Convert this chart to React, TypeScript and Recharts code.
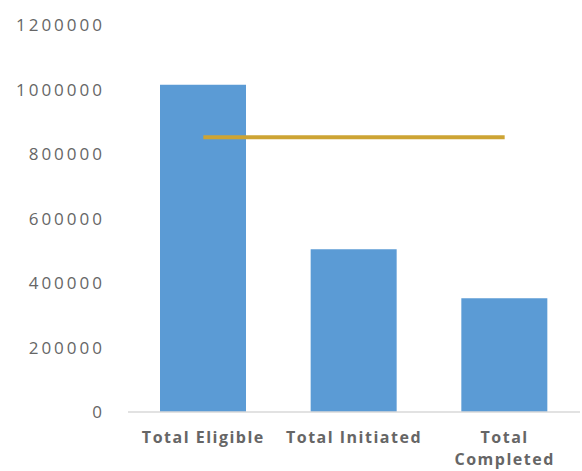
import { Bar, ComposedChart, Line, Text, XAxis, YAxis } from "recharts";

const categories = ["Total Eligible", "Total Initiated", "Total Completed"];
const totals = [1015000, 505000, 353000];
const target = [852000, 852000, 852000];
const yTicks = [0, 200000, 400000, 600000, 800000, 1000000, 1200000];

const chartData = categories.map((name, i) => ({
  name,
  total: totals[i],
  target: target[i],
}));

// labels wrap like Excel's narrow category slots
function CategoryTick({ x, y, payload }: any) {
  return (
    <Text
      x={x}
      y={y + 18}
      width={122}
      textAnchor="middle"
      verticalAnchor="start"
      lineHeight={22}
      fill="#666666"
      style={{
        fontFamily: "'Open Sans', sans-serif",
        fontSize: 16,
        fontWeight: 700,
        letterSpacing: 1.5,
      }}
    >
      {payload.value}
    </Text>
  );
}

export default function App() {
  return (
    <div style={{ position: "absolute", left: 0, top: 0, background: "#fff" }}>
      <ComposedChart
        width={582}
        height={471}
        data={chartData}
        margin={{ top: 25, right: 2, left: 0, bottom: 0 }}
      >
        <XAxis
          dataKey="name"
          height={59}
          interval={0}
          tickLine={false}
          tickSize={0}
          axisLine={{ stroke: "#d9d9d9", strokeWidth: 1.5 }}
          tick={<CategoryTick />}
        />
        <YAxis
          width={128}
          domain={[0, 1200000]}
          ticks={yTicks}
          axisLine={false}
          tickLine={false}
          tickSize={0}
          tickMargin={23}
          tick={{
            fill: "#666666",
            fontSize: 17,
            fontFamily: "'Open Sans', sans-serif",
            letterSpacing: 3,
          }}
        />
        <Bar dataKey="total" fill="#5b9bd5" barSize={86} isAnimationActive={false} />
        <Line
          type="linear"
          dataKey="target"
          stroke="#cda434"
          strokeWidth={4}
          dot={false}
          activeDot={false}
          isAnimationActive={false}
        />
      </ComposedChart>
    </div>
  );
}
